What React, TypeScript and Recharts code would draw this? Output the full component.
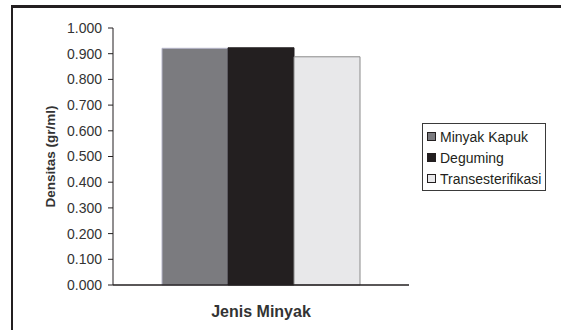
import React from "react";
import { Bar, BarChart, Label, Legend, XAxis, YAxis } from "recharts";

const categories = ["Jenis Minyak"];
const seriesNames = ["Minyak Kapuk", "Deguming", "Transesterifikasi"];
const seriesKeys = ["kapuk", "deguming", "trans"];
const seriesValues = [0.921, 0.923, 0.888];
const seriesColors = ["#7b7b7f", "#231f20", "#e8e8ea"];
const seriesStrokes = ["#b4b4c8", "#231f20", "#8a8a8a"];
const yTicks = [0, 0.1, 0.2, 0.3, 0.4, 0.5, 0.6, 0.7, 0.8, 0.9, 1.0];

const data = categories.map((name) => {
  const row: any = { name };
  seriesKeys.forEach((k, i) => {
    row[k] = seriesValues[i];
  });
  return row;
});

const textColor = "#231f20";

const LegendBox = (props: any) => {
  const items = [...(props.payload || [])].sort(
    (a: any, b: any) => seriesNames.indexOf(a.value) - seriesNames.indexOf(b.value)
  );
  return (
    <div
      style={{
        border: "1px solid #3a3a3a",
        background: "#fff",
        padding: "2px 2px 1px 4px",
        fontSize: 14,
        color: textColor,
        width: 116,
        whiteSpace: "nowrap",
      }}
    >
      {items.map((entry: any) => (
        <div
          key={entry.value}
          style={{ display: "flex", alignItems: "center", height: 21 }}
        >
          <span
            style={{
              display: "inline-block",
              width: 7,
              height: 7,
              background: entry.color,
              border: "1px solid #231f20",
              marginRight: 4,
              flexShrink: 0,
            }}
          />
          <span>{entry.value}</span>
        </div>
      ))}
    </div>
  );
};

const App: React.FC = () => {
  return (
    <div
      style={{
        position: "absolute",
        left: 0,
        top: 0,
        width: 561,
        height: 330,
        background: "#fff",
        fontFamily: "'Liberation Sans', Arial, sans-serif",
        overflow: "hidden",
      }}
    >
      <BarChart
        width={561}
        height={330}
        data={data}
        margin={{ top: 28, right: 152, bottom: 15, left: 53 }}
        barSize={66}
        barGap={0}
      >
        <XAxis
          dataKey="name"
          tick={false}
          tickLine={false}
          height={30}
          axisLine={{ stroke: "#231f20", strokeWidth: 1.5 }}
        >
          <Label
            value="Jenis Minyak"
            position="insideTop"
            offset={21}
            style={{ fontSize: 16, fontWeight: "bold", fill: "#333" }}
          />
        </XAxis>
        <YAxis
          width={60}
          domain={[0, 1]}
          ticks={yTicks}
          interval={0}
          tickFormatter={(v: number) => v.toFixed(3)}
          tick={{ fontSize: 14, fill: "#333" }}
          tickSize={5}
          tickMargin={6}
          tickLine={{ stroke: "#231f20" }}
          axisLine={{ stroke: "#231f20" }}
        >
          <Label
            value="Densitas (gr/ml)"
            angle={-90}
            position="insideLeft"
            offset={-3}
            style={{
              fontSize: 13.5,
              fontWeight: "bold",
              fill: "#333",
              textAnchor: "middle",
            }}
          />
        </YAxis>
        <Legend
          layout="vertical"
          align="center"
          verticalAlign="middle"
          content={<LegendBox />}
          wrapperStyle={{ left: 422, top: 123, width: 124 }}
        />
        {seriesKeys.map((key, i) => (
          <Bar
            key={key}
            dataKey={key}
            name={seriesNames[i]}
            fill={seriesColors[i]}
            stroke={seriesStrokes[i]}
            strokeWidth={1}
            isAnimationActive={false}
          />
        ))}
      </BarChart>
      <div
        style={{
          position: "absolute",
          left: 11,
          top: 5,
          width: 560,
          height: 340,
          borderTop: "3px solid #231f20",
          borderLeft: "2px solid #231f20",
          pointerEvents: "none",
        }}
      />
    </div>
  );
};

export default App;
